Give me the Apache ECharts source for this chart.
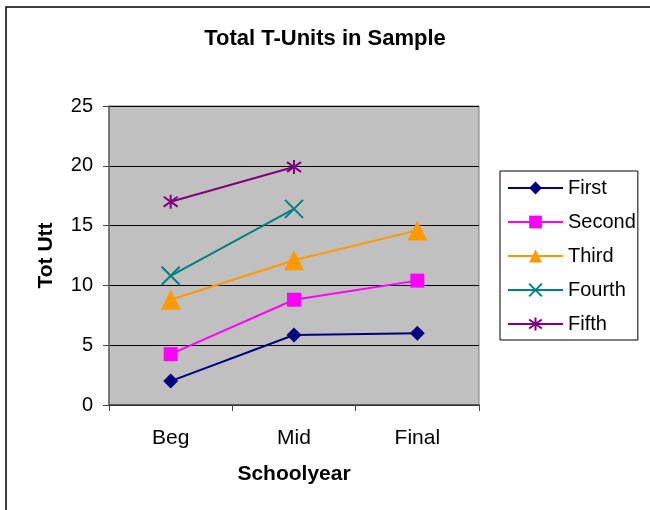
<!DOCTYPE html>
<html>
<head>
<meta charset="utf-8">
<script src="https://cdn.jsdelivr.net/npm/echarts@6/dist/echarts.min.js"></script>
<style>html,body{margin:0;padding:0;background:#fff;}#c{width:650px;height:510px;}</style>
</head>
<body>
<div id="c"></div>
<script>
const categories = ['Beg', 'Mid', 'Final'];
const seriesNames = ['First', 'Second', 'Third', 'Fourth', 'Fifth'];
const first = [2.0, 5.85, 6.0];
const second = [4.25, 8.8, 10.4];
const third = [8.8, 12.1, 14.6];
const fourth = [10.8, 16.4, null];
const fifth = [17.0, 19.9, null];
const yTicks = [0, 5, 10, 15, 20, 25];

const colors = ['#000080', '#FF00FF', '#FF9900', '#008080', '#800080'];
const FONT = 'Liberation Sans, Arial, sans-serif';

const chart = echarts.init(document.getElementById('c'), null, {renderer: 'canvas'});

function lineSeries(name, data, color, symbol, size, stroked) {
  return {
    name: name,
    type: 'line',
    data: data,
    symbol: symbol,
    symbolSize: size,
    connectNulls: false,
    lineStyle: {color: color, width: 2},
    itemStyle: stroked ? {color: 'rgba(0,0,0,0)', borderColor: color, borderWidth: 2} : {color: color, borderWidth: 0},
    emphasis: {disabled: true},
    animation: false
  };
}

const option = {
  animation: false,
  graphic: [{
    type: 'rect',
    shape: {x: 6, y: 7, width: 700, height: 600},
    style: {fill: 'none', stroke: '#000', lineWidth: 1.5},
    silent: true, z: -10
  }],
  title: {
    text: 'Total T-Units in Sample',
    left: 'center',
    top: 23,
    textStyle: {fontFamily: FONT, fontSize: 22, fontWeight: 'bold', color: '#000'}
  },
  legend: {
    orient: 'vertical',
    left: 500,
    top: 171,
    padding: [7, 2, 6, 7],
    itemGap: 14,
    itemWidth: 55,
    itemHeight: 16,
    borderColor: '#000',
    borderWidth: 1,
    backgroundColor: '#fff',
    textStyle: {fontFamily: FONT, fontSize: 20, lineHeight: 20, color: '#000', padding: [0, 0, 0, 0]},
    data: seriesNames
  },
  grid: {
    left: 109, right: 171, top: 106, bottom: 105,
    show: true, backgroundColor: '#C0C0C0', borderColor: '#808080', borderWidth: 1
  },
  xAxis: {
    type: 'category',
    data: categories,
    boundaryGap: true,
    name: 'Schoolyear',
    nameLocation: 'middle',
    nameGap: 59,
    nameTextStyle: {fontFamily: FONT, fontSize: 21, fontWeight: 'bold', color: '#000'},
    axisLine: {lineStyle: {color: '#444', width: 1.5}},
    axisTick: {show: true, length: 6, lineStyle: {color: '#444'}},
    axisLabel: {fontFamily: FONT, fontSize: 21, color: '#000', margin: 23},
    splitLine: {show: false}
  },
  yAxis: {
    type: 'value',
    min: 0, max: 25, interval: 5,
    name: 'Tot Utt',
    nameLocation: 'middle',
    nameRotate: 90,
    nameGap: 52,
    nameTextStyle: {fontFamily: FONT, fontSize: 21, fontWeight: 'bold', color: '#000'},
    axisLine: {show: true, lineStyle: {color: '#666', width: 1.5}},
    axisTick: {show: true, length: 6, inside: false, lineStyle: {color: '#444'}},
    axisLabel: {fontFamily: FONT, fontSize: 20, color: '#000', margin: 16,
      formatter: function (v) { return yTicks.indexOf(v) >= 0 ? String(v) : ''; }},
    splitLine: {show: true, lineStyle: {color: '#000', width: 1}}
  },
  series: [
    lineSeries('First', first, colors[0], 'diamond', 15, false),
    lineSeries('Second', second, colors[1], 'rect', 14, false),
    lineSeries('Third', third, colors[2], 'triangle', 20, false),
    lineSeries('Fourth', fourth, colors[3], 'path://M0,0L10,10M10,0L0,10', 18, true),
    lineSeries('Fifth', fifth, colors[4], 'path://M5,0L5,10M0,1.5L10,8.5M10,1.5L0,8.5', 14, true)
  ]
};
chart.setOption(option);
</script>
</body>
</html>
